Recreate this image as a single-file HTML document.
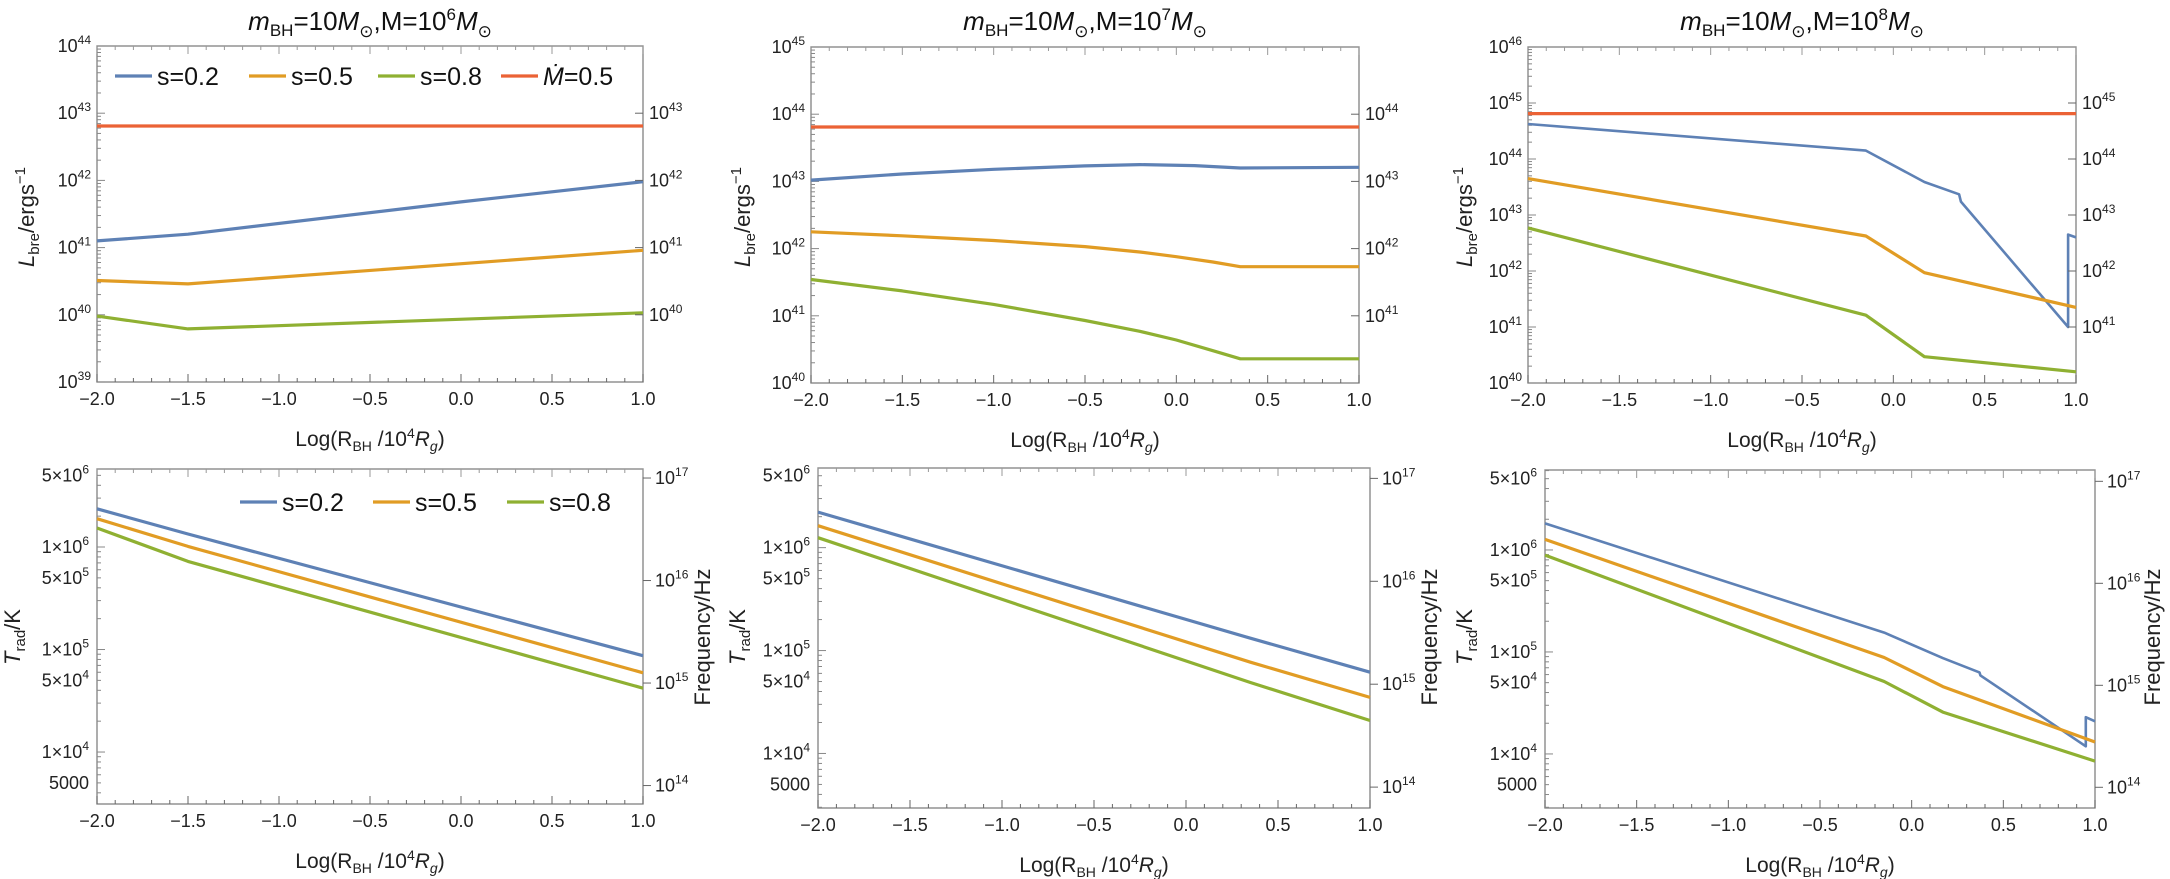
<!DOCTYPE html>
<html><head><meta charset="utf-8">
<style>
html,body{margin:0;padding:0;background:#fff;}
svg{display:block;font-family:"Liberation Sans",sans-serif;}
</style></head>
<body>
<svg id="chart" width="2170" height="879" viewBox="0 0 2170 879" xmlns="http://www.w3.org/2000/svg"></svg>
<script>
// ---------- DATA (log10 values) ----------
const xTicks = [-2.0,-1.5,-1.0,-0.5,0.0,0.5,1.0];
const xTickLabels = ["\u22122.0","\u22121.5","\u22121.0","\u22120.5","0.0","0.5","1.0"];
const legendTop = ["s=0.2","s=0.5","s=0.8","\u1E40=0.5"];
const legendBottom = ["s=0.2","s=0.5","s=0.8"];

// Panel A (M=1e6) luminosity
const aBlueX=[-2,-1.5,0,1], aBlueY=[41.10,41.20,41.68,41.98];
const aOrX=[-2,-1.5,1], aOrY=[40.51,40.46,40.96];
const aGrX=[-2,-1.5,1], aGrY=[39.98,39.79,40.03];
const aRedX=[-2,1], aRedY=[42.81,42.81];
// Panel B (M=1e7) luminosity
const bBlueX=[-2,-1.5,-1,-0.5,-0.2,0.1,0.35,1], bBlueY=[43.02,43.11,43.18,43.23,43.25,43.235,43.20,43.21];
const bOrX=[-2,-1.5,-1,-0.5,-0.2,0,0.2,0.35,1], bOrY=[42.25,42.19,42.12,42.03,41.95,41.88,41.80,41.73,41.73];
const bGrX=[-2,-1.5,-1,-0.5,-0.2,0,0.2,0.35,1], bGrY=[41.54,41.37,41.17,40.93,40.77,40.64,40.48,40.36,40.36];
const bRedX=[-2,1], bRedY=[43.81,43.81];
// Panel C (M=1e8) luminosity
const cBlueX=[-2,-0.15,0.17,0.36,0.37,0.957,0.957,1], cBlueY=[44.625,44.15,43.59,43.37,43.24,41.0,42.65,42.6];
const cOrX=[-2,-0.15,0.17,1], cOrY=[43.65,42.625,41.97,41.35];
const cGrX=[-2,-0.15,0.17,1], cGrY=[42.77,41.21,40.47,40.2];
const cRedX=[-2,1], cRedY=[44.81,44.81];
// Panel D (M=1e6) temperature
const dBlueX=[-2,-1.5,1], dBlueY=[6.373,6.127,4.94];
const dOrX=[-2,-1.5,1], dOrY=[6.276,6.006,4.773];
const dGrX=[-2,-1.5,1], dGrY=[6.185,5.86,4.623];
// Panel E (M=1e7) temperature
const eBlueX=[-2,0.35,1], eBlueY=[6.345,5.12,4.79];
const eOrX=[-2,0.35,1], eOrY=[6.213,4.887,4.545];
const eGrX=[-2,0.35,1], eGrY=[6.097,4.69,4.32];
// Panel F (M=1e8) temperature
const fBlueX=[-2,-0.15,0.17,0.37,0.375,0.95,0.95,1], fBlueY=[6.26,5.19,4.94,4.80,4.77,4.075,4.36,4.32];
const fOrX=[-2,-0.15,0.17,1], fOrY=[6.104,4.946,4.66,4.117];
const fGrX=[-2,-0.15,0.17,1], fGrY=[5.95,4.71,4.41,3.93];

const tempTickVals=[6.699,6,5.699,5,4.699,4,3.699];
const tempTickLabels=[["5\u00D710","6"],["1\u00D710","6"],["5\u00D710","5"],["1\u00D710","5"],["5\u00D710","4"],["1\u00D710","4"],["5000",""]];
const freqExps=[14,15,16,17];
const freqOffset=10.327;

const BLUE="#5E81B5", ORANGE="#E19C24", GREEN="#8FB032", RED="#EB6235";
const NS="http://www.w3.org/2000/svg";
const svg=document.getElementById("chart");
function mk(tag,attrs,parent){const e=document.createElementNS(NS,tag);for(const k in attrs)e.setAttribute(k,attrs[k]);(parent||svg).appendChild(e);return e;}

function drawPanel(p){
  const g=mk("g",{});
  
  
  const sx=v=>p.l+(v+2)/3*(p.r-p.l);
  const sy=v=>p.t+(p.yTop-v)/(p.yTop-p.yBot)*(p.b-p.t);
  const fr=mk("rect",{x:p.l,y:p.t,width:p.r-p.l,height:p.b-p.t,fill:"none",stroke:"#8a8a8a","stroke-width":1.4},g);
  
  
  for(let i=0;i<=30;i++){
    const v=-2+i*0.1, x=sx(v), major=(i%5===0), L=major?8:4;
    mk("line",{x1:x,y1:p.b,x2:x,y2:p.b-L,stroke:"#666","stroke-width":1},g);
    mk("line",{x1:x,y1:p.t,x2:x,y2:p.t+L,stroke:"#999","stroke-width":1},g);
  }
  xTicks.forEach((v,i)=>{
    const t=mk("text",{x:sx(v),y:p.b+23,"text-anchor":"middle","font-size":18,fill:"#222"},g);
    
    
    t.textContent=xTickLabels[i];
  });
  const xt=mk("text",{x:(p.l+p.r)/2,y:p.b+64,"text-anchor":"middle","font-size":21,fill:"#222"},g);
  
  
  xt.innerHTML='Log(R<tspan font-size="14" dy="5">BH</tspan><tspan dy="-5"> /10</tspan><tspan font-size="14" dy="-8">4</tspan><tspan dy="8" font-style="italic">R</tspan><tspan font-size="14" dy="5" font-style="italic">g</tspan><tspan dy="-5">)</tspan>';
  const lo=Math.floor(p.yBot), hi=Math.ceil(p.yTop);
  for(let d=lo; d<=hi; d++){
    for(let k=1;k<=9;k++){
      const v=d+Math.log10(k);
      if(v<p.yBot-1e-6||v>p.yTop+1e-6) continue;
      const L=(k===1)?8:4;
      mk("line",{x1:p.l,y1:sy(v),x2:p.l+L,y2:sy(v),stroke:"#888","stroke-width":1},g);
    }
  }
  p.series.forEach(s=>{
    let d="";
    s.x.forEach((xv,i)=>{d+=(i?"L":"M")+sx(xv).toFixed(1)+","+sy(s.y[i]).toFixed(1);});
    const path=mk("path",{d:d,fill:"none",stroke:s.c,"stroke-width":s.w||3.2,"stroke-linejoin":"round"},g);
    
    
  });
  p.after && p.after(g,sx,sy);
}

function sup(parent,x,y,base,exp,anchor,name){
  const t=mk("text",{x:x,y:y,"text-anchor":anchor,"font-size":18,fill:"#222"},parent);
  
  
  t.innerHTML=base+(exp!==""?'<tspan font-size="12" dy="-8">'+exp+'</tspan>':"");
  return t;
}

function lumAxes(g,p,sy,leftExps,rightExps){
  leftExps.forEach(e=>sup(g,p.l-6,sy(e)+6,"10",String(e),"end","y-tick-label"));
  rightExps.forEach(e=>{
    mk("line",{x1:p.r,y1:sy(e),x2:p.r-8,y2:sy(e),stroke:"#666","stroke-width":1},g);
    sup(g,p.r+6,sy(e)+6,"10",String(e),"start","right-tick-label");
  });
}
function tempAxes(g,p,sy){
  tempTickVals.forEach((v,i)=>sup(g,p.l-8,sy(v)+6,tempTickLabels[i][0],tempTickLabels[i][1],"end","y-tick-label"));
  freqExps.forEach(e=>{
    const v=e-freqOffset;
    mk("line",{x1:p.r,y1:sy(v),x2:p.r+8,y2:sy(v),stroke:"#666","stroke-width":1},g);
    sup(g,p.r+12,sy(v)+6,"10",String(e),"start","right-tick-label");
  });
}
function yTitleL(g,x,y){
  const t=mk("text",{x:0,y:0,"text-anchor":"middle","font-size":22,fill:"#222",transform:`translate(${x},${y}) rotate(-90)`},g);
  
  
  t.innerHTML='<tspan font-style="italic">L</tspan><tspan font-size="15" dy="5">bre</tspan><tspan dy="-5">/ergs</tspan><tspan font-size="15" dy="-9">\u22121</tspan>';
}
function yTitleT(g,x,y){
  const t=mk("text",{x:0,y:0,"text-anchor":"middle","font-size":22,fill:"#222",transform:`translate(${x},${y}) rotate(-90)`},g);
  
  
  t.innerHTML='<tspan font-style="italic">T</tspan><tspan font-size="15" dy="5">rad</tspan><tspan dy="-5">/K</tspan>';
}
function yTitleR(g,x,y){
  const t=mk("text",{x:0,y:0,"text-anchor":"middle","font-size":22,fill:"#222",transform:`translate(${x},${y}) rotate(-90)`},g);
  
  
  t.textContent='Frequency/Hz';
}
function title(cx,expo){
  const t=mk("text",{x:cx,y:30,"text-anchor":"middle","font-size":26,fill:"#111"});
  
  
  t.innerHTML='<tspan font-style="italic">m</tspan><tspan font-size="17" dy="6">BH</tspan><tspan dy="-6">=10</tspan><tspan font-style="italic">M</tspan><tspan font-size="17" dy="7">\u2299</tspan><tspan dy="-7">,M=10</tspan><tspan font-size="17" dy="-10">'+expo+'</tspan><tspan dy="10" font-style="italic">M</tspan><tspan font-size="17" dy="7">\u2299</tspan>';
}
function legend(items,colors,pos,y){
  items.forEach((txt,i)=>{
    const l=mk("line",{x1:pos[i],y1:y,x2:pos[i]+37,y2:y,stroke:colors[i],"stroke-width":3.2});
    
    
    const t=mk("text",{x:pos[i]+42,y:y+9,"font-size":25,fill:"#111"});
    
    
    if(txt.startsWith("\u1E40")) t.innerHTML='<tspan font-style="italic">\u1E40</tspan>'+txt.slice(1); else t.textContent=txt;
  });
}

const pA={name:"panel-lum-1e6",l:97,r:643,t:46,b:382,yTop:44,yBot:39,
  series:[{x:aRedX,y:aRedY,c:RED,n:"line-mdot"},{x:aBlueX,y:aBlueY,c:BLUE,n:"line-s02"},{x:aOrX,y:aOrY,c:ORANGE,n:"line-s05"},{x:aGrX,y:aGrY,c:GREEN,n:"line-s08"}]};
pA.after=(g,sx,sy)=>{lumAxes(g,pA,sy,[39,40,41,42,43,44],[40,41,42,43]);yTitleL(g,34,217);};
const pB={name:"panel-lum-1e7",l:811,r:1359,t:47,b:383,yTop:45,yBot:40,
  series:[{x:bRedX,y:bRedY,c:RED,n:"line-mdot"},{x:bBlueX,y:bBlueY,c:BLUE,n:"line-s02"},{x:bOrX,y:bOrY,c:ORANGE,n:"line-s05"},{x:bGrX,y:bGrY,c:GREEN,n:"line-s08"}]};
pB.after=(g,sx,sy)=>{lumAxes(g,pB,sy,[40,41,42,43,44,45],[41,42,43,44]);yTitleL(g,750,217);};
const pC={name:"panel-lum-1e8",l:1528,r:2076,t:47,b:383,yTop:46,yBot:40,
  series:[{x:cRedX,y:cRedY,c:RED,n:"line-mdot"},{x:cBlueX,y:cBlueY,c:BLUE,n:"line-s02",w:2.6},{x:cOrX,y:cOrY,c:ORANGE,n:"line-s05"},{x:cGrX,y:cGrY,c:GREEN,n:"line-s08"}]};
pC.after=(g,sx,sy)=>{lumAxes(g,pC,sy,[40,41,42,43,44,45,46],[41,42,43,44,45]);yTitleL(g,1472,217);};
const pD={name:"panel-temp-1e6",l:97,r:643,t:469,b:804,yTop:6.761,yBot:3.493,
  series:[{x:dBlueX,y:dBlueY,c:BLUE,n:"line-s02"},{x:dOrX,y:dOrY,c:ORANGE,n:"line-s05"},{x:dGrX,y:dGrY,c:GREEN,n:"line-s08"}]};
pD.after=(g,sx,sy)=>{tempAxes(g,pD,sy);yTitleT(g,20,637);yTitleR(g,710,637);};
const pE={name:"panel-temp-1e7",l:818,r:1370,t:468,b:808,yTop:6.774,yBot:3.47,
  series:[{x:eBlueX,y:eBlueY,c:BLUE,n:"line-s02"},{x:eOrX,y:eOrY,c:ORANGE,n:"line-s05"},{x:eGrX,y:eGrY,c:GREEN,n:"line-s08"}]};
pE.after=(g,sx,sy)=>{tempAxes(g,pE,sy);yTitleT(g,745,637);yTitleR(g,1437,637);};
const pF={name:"panel-temp-1e8",l:1545,r:2095,t:470,b:808,yTop:6.784,yBot:3.47,
  series:[{x:fBlueX,y:fBlueY,c:BLUE,n:"line-s02",w:2.6},{x:fOrX,y:fOrY,c:ORANGE,n:"line-s05"},{x:fGrX,y:fGrY,c:GREEN,n:"line-s08"}]};
pF.after=(g,sx,sy)=>{tempAxes(g,pF,sy);yTitleT(g,1472,637);yTitleR(g,2160,637);};

[pA,pB,pC,pD,pE,pF].forEach(drawPanel);
title(370,"6");title(1085,"7");title(1802,"8");
legend(legendTop,[BLUE,ORANGE,GREEN,RED],[115,249,378,501],76);
legend(legendBottom,[BLUE,ORANGE,GREEN],[240,373,507],502);
</script>
</body></html>
